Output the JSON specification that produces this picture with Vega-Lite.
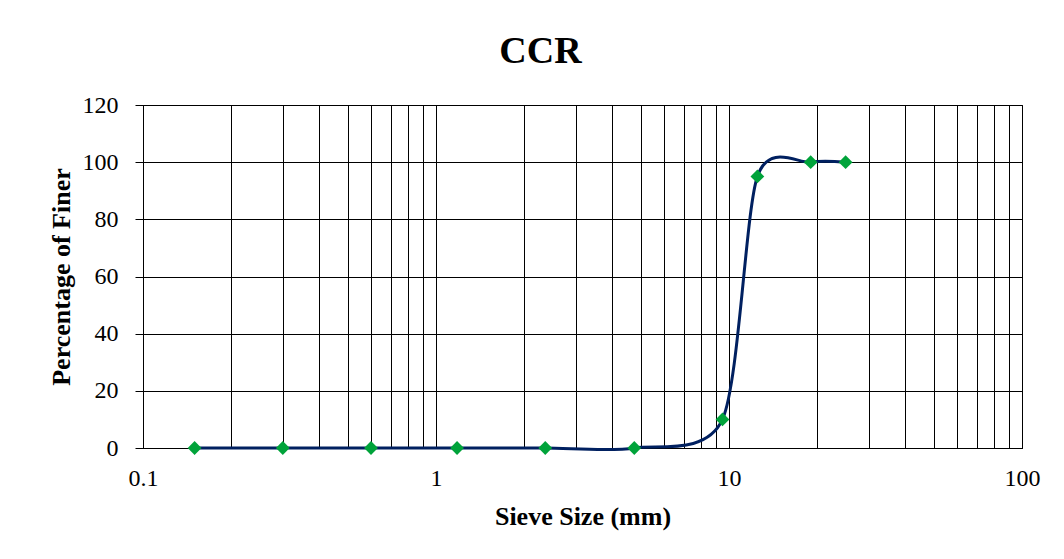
{
  "$schema": "https://vega.github.io/schema/vega-lite/v6.json",
  "autosize": {"type": "none"},
  "width": 879,
  "height": 343,
  "padding": {"left": 143, "top": 105, "right": 42, "bottom": 111},
  "background": "white",
  "config": {
    "font": "Liberation Serif",
    "view": {"stroke": "#000", "strokeWidth": 1}
  },
  "title": {
    "text": "CCR",
    "font": "Liberation Serif",
    "fontSize": 38,
    "fontWeight": "bold",
    "color": "#000",
    "anchor": "middle",
    "dx": -42,
    "offset": 22
  },
  "data": {
    "values": [
      {"size": 0.15, "finer": 0},
      {"size": 0.3, "finer": 0},
      {"size": 0.6, "finer": 0},
      {"size": 1.18, "finer": 0},
      {"size": 2.36, "finer": 0},
      {"size": 4.75, "finer": 0},
      {"size": 9.5, "finer": 10},
      {"size": 12.5, "finer": 95},
      {"size": 19, "finer": 100},
      {"size": 25, "finer": 100}
    ]
  },
  "encoding": {
    "x": {
      "field": "size",
      "type": "quantitative",
      "scale": {"type": "log", "domain": [0.1, 100], "nice": false},
      "axis": {
        "title": "Sieve Size (mm)",
        "titleFont": "Liberation Serif",
        "titleFontSize": 26,
        "titleFontWeight": "bold",
        "titleColor": "#000",
        "titlePadding": 13,
        "values": [0.1, 0.2, 0.3, 0.4, 0.5, 0.6, 0.7, 0.8, 0.9, 1, 2, 3, 4, 5, 6, 7, 8, 9, 10, 20, 30, 40, 50, 60, 70, 80, 90, 100],
        "labelExpr": "datum.value == 0.1 ? '0.1' : datum.value == 1 ? '1' : datum.value == 10 ? '10' : datum.value == 100 ? '100' : ''",
        "labelFont": "Liberation Serif",
        "labelFontSize": 24,
        "labelColor": "#000",
        "labelPadding": 18,
        "labelOverlap": false,
        "labelFlush": false,
        "ticks": false,
        "domain": true,
        "domainColor": "#000",
        "grid": true,
        "gridColor": "#000",
        "gridOpacity": 1,
        "gridWidth": 1
      }
    },
    "y": {
      "field": "finer",
      "type": "quantitative",
      "scale": {"domain": [0, 120], "nice": false},
      "axis": {
        "title": "Percentage of Finer",
        "titleFont": "Liberation Serif",
        "titleFontSize": 26,
        "titleFontWeight": "bold",
        "titleColor": "#000",
        "titlePadding": 8,
        "values": [0, 20, 40, 60, 80, 100, 120],
        "labelFont": "Liberation Serif",
        "labelFontSize": 24,
        "labelColor": "#000",
        "labelPadding": 17,
        "tickSize": 8,
        "tickColor": "#000",
        "domainColor": "#000",
        "grid": true,
        "gridColor": "#000",
        "gridOpacity": 1,
        "gridWidth": 1
      }
    }
  },
  "layer": [
    {
      "mark": {"type": "line", "interpolate": "cardinal", "tension": 0.2, "color": "#002060", "strokeWidth": 3}
    },
    {
      "mark": {"type": "point", "shape": "diamond", "filled": true, "size": 190, "color": "#00A33A", "opacity": 1}
    }
  ]
}
